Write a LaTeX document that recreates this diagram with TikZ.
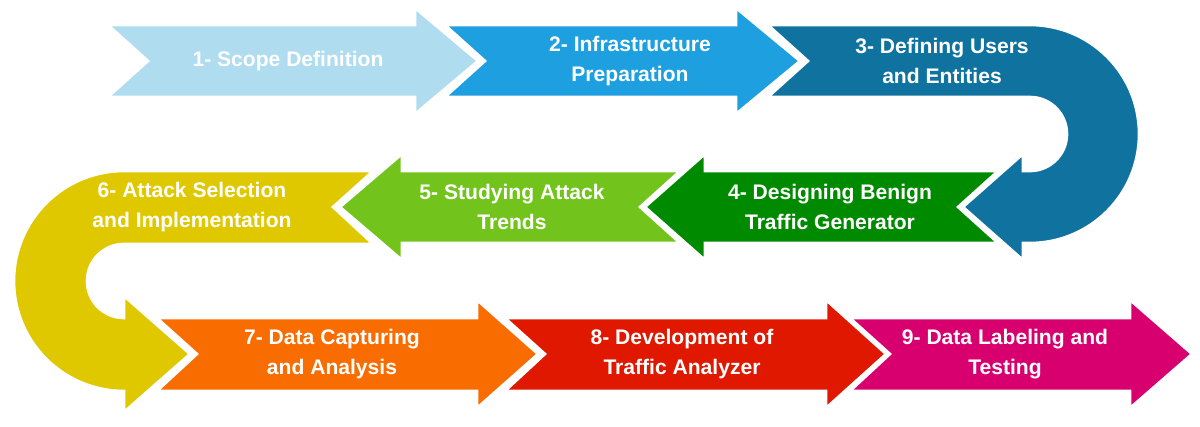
\documentclass[tikz,border=0pt]{standalone}
\usepackage{fontspec}
\setmainfont{Liberation Sans}
\usepackage{xcolor}
\definecolor{stepA}{HTML}{B0DCF0}
\definecolor{stepB}{HTML}{1E9FDF}
\definecolor{stepC}{HTML}{10739F}
\definecolor{stepD}{HTML}{008A00}
\definecolor{stepE}{HTML}{72C41C}
\definecolor{stepF}{HTML}{E0C800}
\definecolor{stepG}{HTML}{F86C00}
\definecolor{stepH}{HTML}{E01800}
\definecolor{stepI}{HTML}{D8006E}
\begin{document}
\begin{tikzpicture}[x=0.02cm,y=0.02cm]
    \tikzstyle{phase}=[draw=white, line width=1.5pt, line join=miter]
    \tikzstyle{lbl}=[text=white, font=\fontsize{12}{17}\selectfont\bfseries, align=center]
    \useasboundingbox (0,0) rectangle (1200,426);

%   top row
    \path[phase, fill=stepA] (108,401) -- (415,401) -- (415,418) -- (478,365) -- (415,312) -- (415,329) -- (108,329) -- (148,365) -- cycle;
    \path[phase, fill=stepB] (445,401) -- (736,401) -- (736,418) -- (800,365) -- (736,312) -- (736,329) -- (445,329) -- (485,365) -- cycle;
    \path[phase, fill=stepC] (768,401) -- (1030,401) arc[start angle=90, end angle=-90, radius=109]
        -- (1023,183) -- (1023,166) -- (963,219) -- (1023,272) -- (1023,255) -- (1030,255)
        arc[start angle=-90, end angle=90, radius=37] -- (768,329) -- (808,365) -- cycle;

%   middle row
    \path[phase, fill=stepD] (998,255) -- (705,255) -- (705,272) -- (645,219) -- (705,166) -- (705,183) -- (998,183) -- (958,219) -- cycle;
    \path[phase, fill=stepE] (680,255) -- (402,255) -- (402,272) -- (340,219) -- (402,166) -- (402,183) -- (680,183) -- (640,219) -- cycle;
    \path[phase, fill=stepF] (373,255) -- (124,255) arc[start angle=90, end angle=270, radius=110]
        -- (124,35) -- (124,14) -- (190,72) -- (124,130) -- (124,108)
        arc[start angle=270, end angle=90, radius=37] -- (373,182) -- (333,219) -- cycle;

%   bottom row
    \path[phase, fill=stepG] (157,108) -- (477,108) -- (477,126) -- (538,72) -- (477,18) -- (477,35) -- (157,35) -- (197,72) -- cycle;
    \path[phase, fill=stepH] (505,108) -- (826,108) -- (826,126) -- (886,72) -- (826,18) -- (826,35) -- (505,35) -- (545,72) -- cycle;
    \path[phase, fill=stepI] (850,108) -- (1130,108) -- (1130,126) -- (1192,72) -- (1130,18) -- (1130,35) -- (850,35) -- (890,72) -- cycle;

    \node[lbl] (s1) at (288,365) {1- Scope Definition};
    \node[lbl] (s2) at (630,365) {2- Infrastructure\\Preparation};
    \node[lbl] (s3) at (942,365) {3- Defining Users\\and Entities};
    \node[lbl] (s4) at (830,219) {4- Designing Benign\\Traffic Generator};
    \node[lbl] (s5) at (512,219) {5- Studying Attack\\Trends};
    \node[lbl] (s6) at (192,219) {6- Attack Selection\\and Implementation};
    \node[lbl] (s7) at (332,72) {7- Data Capturing\\and Analysis};
    \node[lbl] (s8) at (682,72) {8- Development of\\Traffic Analyzer};
    \node[lbl] (s9) at (1005,72) {9- Data Labeling and\\Testing};
\end{tikzpicture}
\end{document}
